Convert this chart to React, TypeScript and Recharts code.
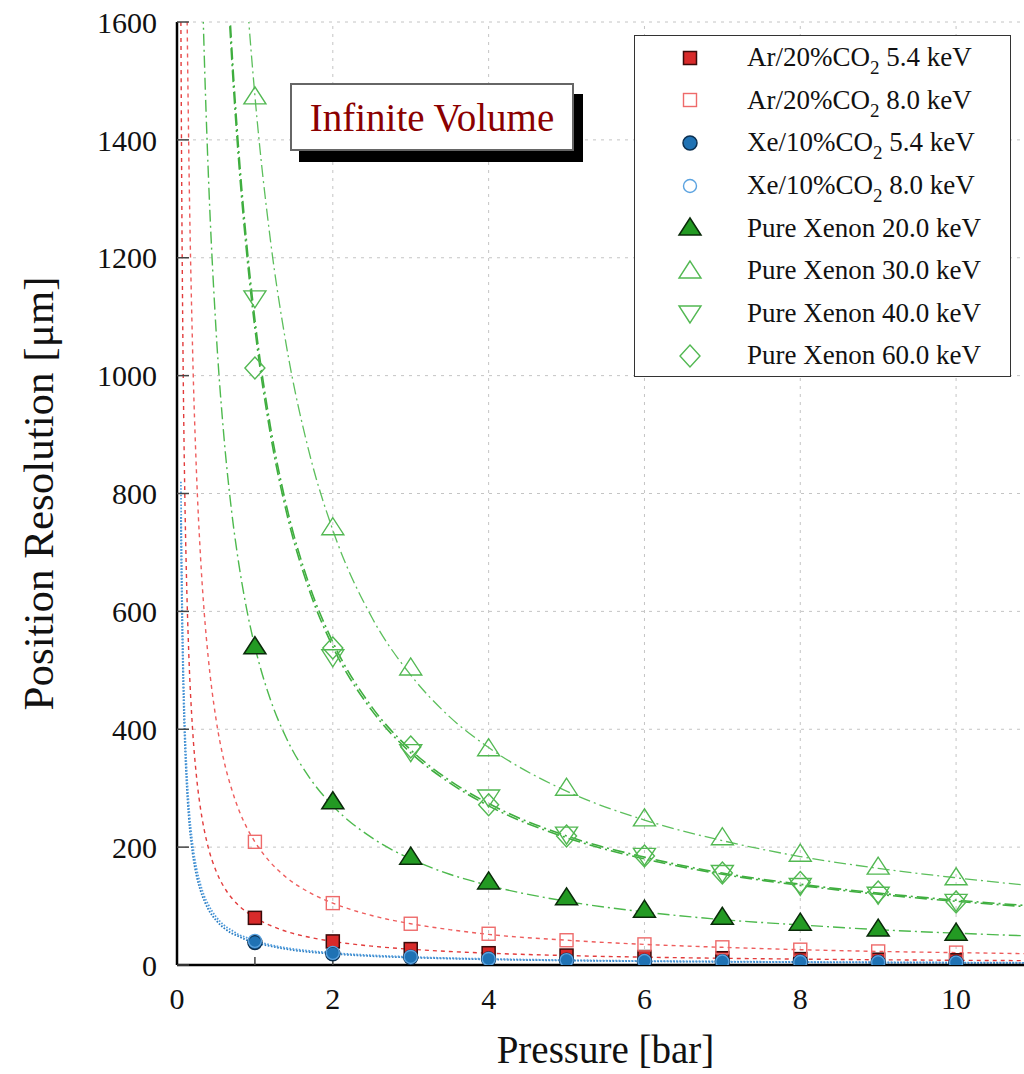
import React from 'react';
import {
  ComposedChart,
  Line,
  Scatter,
  XAxis,
  YAxis,
  CartesianGrid,
  ReferenceLine,
  Legend,
} from 'recharts';

// ---------- data ----------
const pressure = [1, 2, 3, 4, 5, 6, 7, 8, 9, 10];

const ar54 = [80, 40, 27, 20, 16, 13.5, 11.5, 10, 9, 8];
const ar80 = [209, 105, 70, 53, 42, 35, 30, 26, 23, 21];
const xe54 = [38, 19, 13, 10, 8, 6.5, 5.5, 5, 4.5, 4];
const xe80 = [41, 20.5, 13.7, 10.3, 8.2, 6.8, 5.9, 5.1, 4.6, 4.1];
const px20 = [540, 277, 183, 141, 114, 93, 81, 71, 61, 54];
const px30 = [1473, 742, 504, 367, 300, 248, 216, 188, 166, 148];
const px40 = [1132, 523, 362, 285, 222, 186, 157, 135, 120, 108];
const px60 = [1013, 538, 370, 272, 219, 185, 156, 140, 124, 107];

const fitPressure = [0.05, 0.06, 0.07, 0.08, 0.1, 0.12, 0.15, 0.2, 0.25, 0.3, 0.35, 0.4, 0.5, 0.6, 0.7, 0.8, 0.9, 1, 1.2, 1.4, 1.7, 2, 2.5, 3, 3.5, 4, 5, 6, 7, 8, 9, 10, 11];
const fitAr54 = [1600, 1333, 1143, 1000, 800, 667, 533, 400, 320, 267, 229, 200, 160, 133, 114, 100, 89, 80, 67, 57, 47, 40, 32, 26.7, 22.9, 20, 16, 13.3, 11.4, 10, 8.9, 8, 7.3];
const fitAr80 = [4180, 3483, 2986, 2613, 2090, 1742, 1393, 1045, 836, 697, 597, 523, 418, 348, 299, 261, 232, 209, 174, 149, 123, 105, 84, 70, 60, 52, 42, 35, 30, 26, 23, 21, 19];
const fitXe54 = [760, 633, 543, 475, 380, 317, 253, 190, 152, 127, 109, 95, 76, 63, 54, 48, 42, 38, 32, 27, 22, 19, 15, 12.7, 10.9, 9.5, 7.6, 6.3, 5.4, 4.8, 4.2, 3.8, 3.5];
const fitXe80 = [820, 683, 586, 513, 410, 342, 273, 205, 164, 137, 117, 103, 82, 68, 59, 51, 46, 41, 34, 29, 24, 20.5, 16.4, 13.7, 11.7, 10.3, 8.2, 6.8, 5.9, 5.1, 4.6, 4.1, 3.7];
const fitPx20 = [10800, 9000, 7714, 6750, 5400, 4500, 3600, 2700, 2160, 1800, 1543, 1350, 1080, 900, 771, 675, 600, 540, 450, 386, 318, 270, 216, 180, 154, 135, 108, 90, 77, 68, 60, 54, 49];
const fitPx30 = [29500, 24583, 21071, 18438, 14750, 12292, 9833, 7375, 5900, 4917, 4214, 3688, 2950, 2458, 2107, 1844, 1639, 1475, 1229, 1054, 868, 738, 590, 492, 421, 369, 295, 246, 211, 184, 164, 148, 134];
const fitPx40 = [21900, 18250, 15643, 13688, 10950, 9125, 7300, 5475, 4380, 3650, 3129, 2738, 2190, 1825, 1564, 1369, 1217, 1095, 913, 782, 644, 548, 438, 365, 313, 274, 219, 183, 156, 137, 122, 110, 100];
const fitPx60 = [21600, 18000, 15429, 13500, 10800, 9000, 7200, 5400, 4320, 3600, 3086, 2700, 2160, 1800, 1543, 1350, 1200, 1080, 900, 771, 635, 540, 432, 360, 309, 270, 216, 180, 154, 135, 120, 108, 98];

const seriesNames = [
  'Ar/20%CO2 5.4 keV',
  'Ar/20%CO2 8.0 keV',
  'Xe/10%CO2 5.4 keV',
  'Xe/10%CO2 8.0 keV',
  'Pure Xenon 20.0 keV',
  'Pure Xenon 30.0 keV',
  'Pure Xenon 40.0 keV',
  'Pure Xenon 60.0 keV',
];

const xTicks = [0, 1, 2, 3, 4, 5, 6, 7, 8, 9, 10, 11];
const xGridLines = [2, 4, 6, 8, 10];
const yTicks = [0, 200, 400, 600, 800, 1000, 1200, 1400, 1600];

// ---------- styling ----------
const FONT = '"Liberation Serif", "DejaVu Serif", "Times New Roman", serif';

type MarkerKind = 'fsq' | 'osq' | 'fci' | 'oci' | 'ftu' | 'otu' | 'otd' | 'odi';

const seriesStyle: { marker: MarkerKind; color: string; edge: string; line: string; dash: string; width: number }[] = [
  { marker: 'fsq', color: '#d82a2a', edge: '#3a0a0a', line: '#e23c3c', dash: '4 4', width: 1.4 },
  { marker: 'osq', color: '#ee6a6a', edge: '#ee6a6a', line: '#ee5d5d', dash: '4 4', width: 1.4 },
  { marker: 'fci', color: '#1f72b4', edge: '#0b2f50', line: '#2a7dc2', dash: '1.6 1.6', width: 1.8 },
  { marker: 'oci', color: '#5ba3e0', edge: '#5ba3e0', line: '#4f9bdc', dash: '1.6 1.6', width: 1.8 },
  { marker: 'ftu', color: '#239a23', edge: '#0a2a0a', line: '#4db94d', dash: '12 4 2 4', width: 1.4 },
  { marker: 'otu', color: '#52b852', edge: '#52b852', line: '#5cbf5c', dash: '12 4 2 4', width: 1.3 },
  { marker: 'otd', color: '#52b852', edge: '#52b852', line: '#3fae3f', dash: '12 4 2 4', width: 1.6 },
  { marker: 'odi', color: '#52b852', edge: '#52b852', line: '#3fae3f', dash: '12 4 2 4', width: 1.6 },
];

const pointValues = [ar54, ar80, xe54, xe80, px20, px30, px40, px60];
const fitValues = [fitAr54, fitAr80, fitXe54, fitXe80, fitPx20, fitPx30, fitPx40, fitPx60];

const pointData = pointValues.map((vals) => pressure.map((p, i) => ({ p, v: vals[i] })));
const fitData = fitValues.map((vals) => fitPressure.map((p, i) => ({ p, v: vals[i] })));

function Marker({ kind, cx, cy, color, edge }: { kind: MarkerKind; cx: number; cy: number; color: string; edge: string }) {
  if (cx == null || cy == null || isNaN(cx) || isNaN(cy)) return <g />;
  switch (kind) {
    case 'fsq':
      return <rect x={cx - 6.5} y={cy - 6.5} width={13} height={13} fill={color} stroke={edge} strokeWidth={1.5} />;
    case 'osq':
      return <rect x={cx - 6.5} y={cy - 6.5} width={13} height={13} fill="none" stroke={color} strokeWidth={1.4} />;
    case 'fci':
      return <circle cx={cx} cy={cy} r={7} fill={color} stroke={edge} strokeWidth={1.5} />;
    case 'oci':
      return <circle cx={cx} cy={cy} r={6.5} fill="none" stroke={color} strokeWidth={1.4} />;
    case 'ftu':
      return (
        <polygon
          points={`${cx},${cy - 10} ${cx - 11},${cy + 7} ${cx + 11},${cy + 7}`}
          fill={color}
          stroke={edge}
          strokeWidth={1.5}
        />
      );
    case 'otu':
      return (
        <polygon
          points={`${cx},${cy - 10} ${cx - 11},${cy + 7} ${cx + 11},${cy + 7}`}
          fill="none"
          stroke={color}
          strokeWidth={1.4}
        />
      );
    case 'otd':
      return (
        <polygon
          points={`${cx},${cy + 10} ${cx - 11},${cy - 7} ${cx + 11},${cy - 7}`}
          fill="none"
          stroke={color}
          strokeWidth={1.4}
        />
      );
    case 'odi':
    default:
      return (
        <polygon
          points={`${cx},${cy - 11} ${cx + 10},${cy} ${cx},${cy + 11} ${cx - 10},${cy}`}
          fill="none"
          stroke={color}
          strokeWidth={1.4}
        />
      );
  }
}

function renderName(name: string) {
  const parts = name.split('CO2');
  if (parts.length === 2) {
    return (
      <span>
        {parts[0]}CO
        <span style={{ fontSize: 19, position: 'relative', top: 8 }}>2</span>
        {parts[1]}
      </span>
    );
  }
  return <span>{name}</span>;
}

const LegendBox = () => (
  <div
    style={{
      width: 377,
      height: 342,
      boxSizing: 'border-box',
      border: '1.5px solid #333',
      background: '#fff',
      fontFamily: FONT,
      fontSize: 27,
      color: '#111',
      position: 'relative',
    }}
  >
    {seriesNames.map((name, i) => {
      const st = seriesStyle[i];
      return (
        <div
          key={name}
          style={{
            position: 'absolute',
            left: 0,
            top: 0.7 + i * 42.6,
            height: 42,
            width: 377,
            display: 'flex',
            alignItems: 'center',
            whiteSpace: 'nowrap',
          }}
        >
          <svg width={112} height={42} style={{ flex: 'none' }}>
            <Marker kind={st.marker} cx={55} cy={21} color={st.color} edge={st.edge} />
          </svg>
          {renderName(name)}
        </div>
      );
    })}
  </div>
);

export default function App() {
  return (
    <div
      style={{
        position: 'absolute',
        left: 0,
        top: 0,
        width: 1024,
        height: 1074,
        overflow: 'hidden',
        background: '#fff',
      }}
    >
      <ComposedChart width={1050} height={1074} margin={{ top: 22, right: 16, bottom: 0, left: 0 }}>
        <CartesianGrid vertical={false} stroke="#c4c4c4" strokeDasharray="3 5" />
        {xGridLines.map((x) => (
          <ReferenceLine key={x} x={x} stroke="#c4c4c4" strokeDasharray="3 5" strokeWidth={1} ifOverflow="hidden" />
        ))}
        <XAxis
          type="number"
          dataKey="p"
          domain={[0, 11]}
          allowDataOverflow
          ticks={xTicks}
          interval={0}
          tickFormatter={(v: number) => (v % 2 === 0 && v <= 10 ? String(v) : '')}
          height={109}
          tickSize={-8}
          tickMargin={31}
          tick={{ fontSize: 30, fill: '#111', fontFamily: FONT }}
          tickLine={{ stroke: '#444', strokeWidth: 1.5 }}
          axisLine={{ stroke: '#000', strokeWidth: 2.5 }}
          label={{
            value: 'Pressure [bar]',
            position: 'insideBottom',
            offset: 11,
            style: { fontSize: 39, fill: '#111', fontFamily: FONT },
          }}
        />
        <XAxis
          xAxisId="top"
          orientation="top"
          type="number"
          domain={[0, 11]}
          allowDataOverflow
          ticks={xTicks}
          interval={0}
          tickFormatter={() => ''}
          height={0}
          tickSize={-8}
          tickLine={{ stroke: '#444', strokeWidth: 1.5 }}
          axisLine={{ stroke: '#000', strokeWidth: 2.5 }}
        />
        <YAxis
          type="number"
          dataKey="v"
          domain={[0, 1600]}
          allowDataOverflow
          ticks={yTicks}
          interval={0}
          width={177}
          tickSize={-12}
          tickMargin={32}
          tick={{ fontSize: 30, fill: '#111', fontFamily: FONT }}
          tickLine={{ stroke: '#444', strokeWidth: 1.5 }}
          axisLine={{ stroke: '#000', strokeWidth: 2.5 }}
          label={{
            value: 'Position Resolution [μm]',
            angle: -90,
            position: 'insideLeft',
            offset: 38,
            style: { fontSize: 43, fill: '#111', fontFamily: FONT, textAnchor: 'middle' },
          }}
        />
        {fitData.map((d, i) => (
          <Line
            key={`fit-${i}`}
            data={d}
            dataKey="v"
            type="monotone"
            dot={false}
            activeDot={false}
            stroke={seriesStyle[i].line}
            strokeWidth={seriesStyle[i].width}
            strokeDasharray={seriesStyle[i].dash}
            isAnimationActive={false}
            legendType="none"
          />
        ))}
        {pointData.map((d, i) => (
          <Scatter
            key={`pts-${i}`}
            name={seriesNames[i]}
            data={d}
            dataKey="v"
            isAnimationActive={false}
            shape={(props: any) => (
              <Marker
                kind={seriesStyle[i].marker}
                cx={props.cx}
                cy={props.cy}
                color={seriesStyle[i].color}
                edge={seriesStyle[i].edge}
              />
            )}
          />
        ))}
        <Legend
          layout="horizontal"
          verticalAlign="middle"
          align="center"
          content={() => <LegendBox />}
          wrapperStyle={{ position: 'absolute', left: 634, top: 35, width: 377, height: 342, margin: 0 }}
        />
      </ComposedChart>
      <div
        style={{
          position: 'absolute',
          left: 290,
          top: 83,
          width: 284,
          height: 68,
          boxSizing: 'border-box',
          border: '2px solid #666',
          background: '#fff',
          boxShadow: '9px 11px 0 #000',
          fontFamily: FONT,
          fontSize: 39,
          color: '#8b0000',
          display: 'flex',
          alignItems: 'center',
          justifyContent: 'center',
          whiteSpace: 'nowrap',
        }}
      >
        Infinite Volume
      </div>
    </div>
  );
}
